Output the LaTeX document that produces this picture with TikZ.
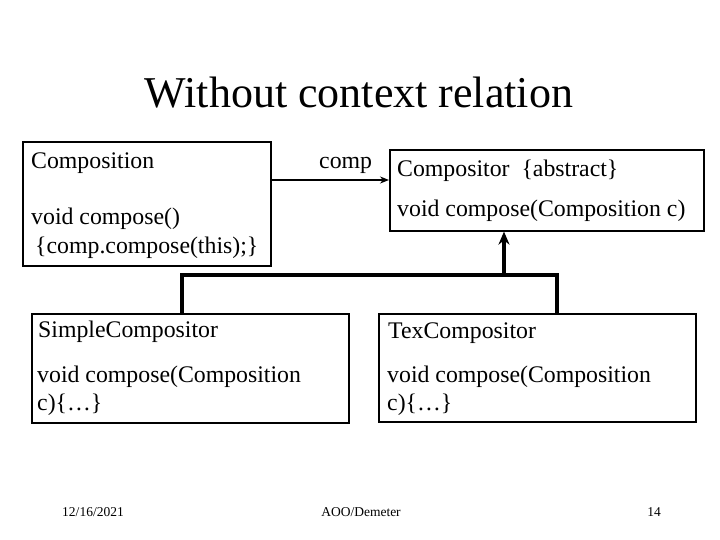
\documentclass[tikz,border=0pt]{standalone}
\usepackage{fontspec}
\setmainfont{Liberation Serif}
\usetikzlibrary{arrows.meta}

\begin{document}
\begin{tikzpicture}[x=1pt,y=-1pt,
    classbox/.style={draw,line width=1.6pt,inner sep=0pt,anchor=north west},
    txt/.style={anchor=base west,inner sep=0pt,font=\fontsize{23.8}{26}\selectfont},
    foot/.style={anchor=base,inner sep=0pt,font=\fontsize{13.5}{15}\selectfont},
    gen/.style={line width=4pt},
    ]
    \useasboundingbox (0,0) rectangle (720,540);
    % title
    \node[anchor=base,inner sep=0pt,font=\fontsize{44}{48}\selectfont] (title) at (359,108) {Without context relation};
    % classes
    \node[classbox,minimum width=248pt,minimum height=124pt] (composition) at (22,141) {};
    \node[classbox,minimum width=314pt,minimum height=81pt] (compositor) at (389,149) {};
    \node[classbox,minimum width=317pt,minimum height=109pt] (simple) at (31,313) {};
    \node[classbox,minimum width=317pt,minimum height=108pt] (tex) at (378,313) {};
    % members
    \node[txt] (compositionname) at (31,169) {Composition};
    \node[txt] (compositionop) at (31,225) {void compose()};
    \node[txt] (compositionbody) at (35,253) {\{comp.compose(this);\}};
    \node[txt] (compositorname) at (397,177) {Compositor\ \ \{abstract\}};
    \node[txt] (compositorop) at (397,217) {void compose(Composition c)};
    \node[txt] (simplename) at (38,337) {SimpleCompositor};
    \node[txt] (simpleop) at (37,382) {void compose(Composition};
    \node[txt] (simplebody) at (37,410) {c)\{…\}};
    \node[txt] (texname) at (388,338) {TexCompositor};
    \node[txt] (texop) at (387,382) {void compose(Composition};
    \node[txt] (texbody) at (387,410) {c)\{…\}};
    % association
    \coordinate (assoc) at (270,180);
    \draw[line width=1.5pt,-{Stealth[length=9pt,width=7pt]}] (composition.east |- assoc) -- (compositor.west |- assoc);
    \node[txt] (complabel) at (319,169) {comp};
    % inheritance
    \coordinate (leftdrop) at (182,275);
    \coordinate (rightdrop) at (557,275);
    \coordinate (joint) at (504,275);
    \draw[gen] (simple.north -| leftdrop) -- (leftdrop) -- (rightdrop) -- (tex.north -| rightdrop);
    \draw[gen,-{Stealth[length=13pt,width=11pt]}] (joint) -- (compositor.south -| joint);
    % footer
    \node[foot] (date) at (93,516) {12/16/2021};
    \node[foot] (course) at (361,516) {AOO/Demeter};
    \node[foot] (page) at (654,516) {14};
\end{tikzpicture}
\end{document}
